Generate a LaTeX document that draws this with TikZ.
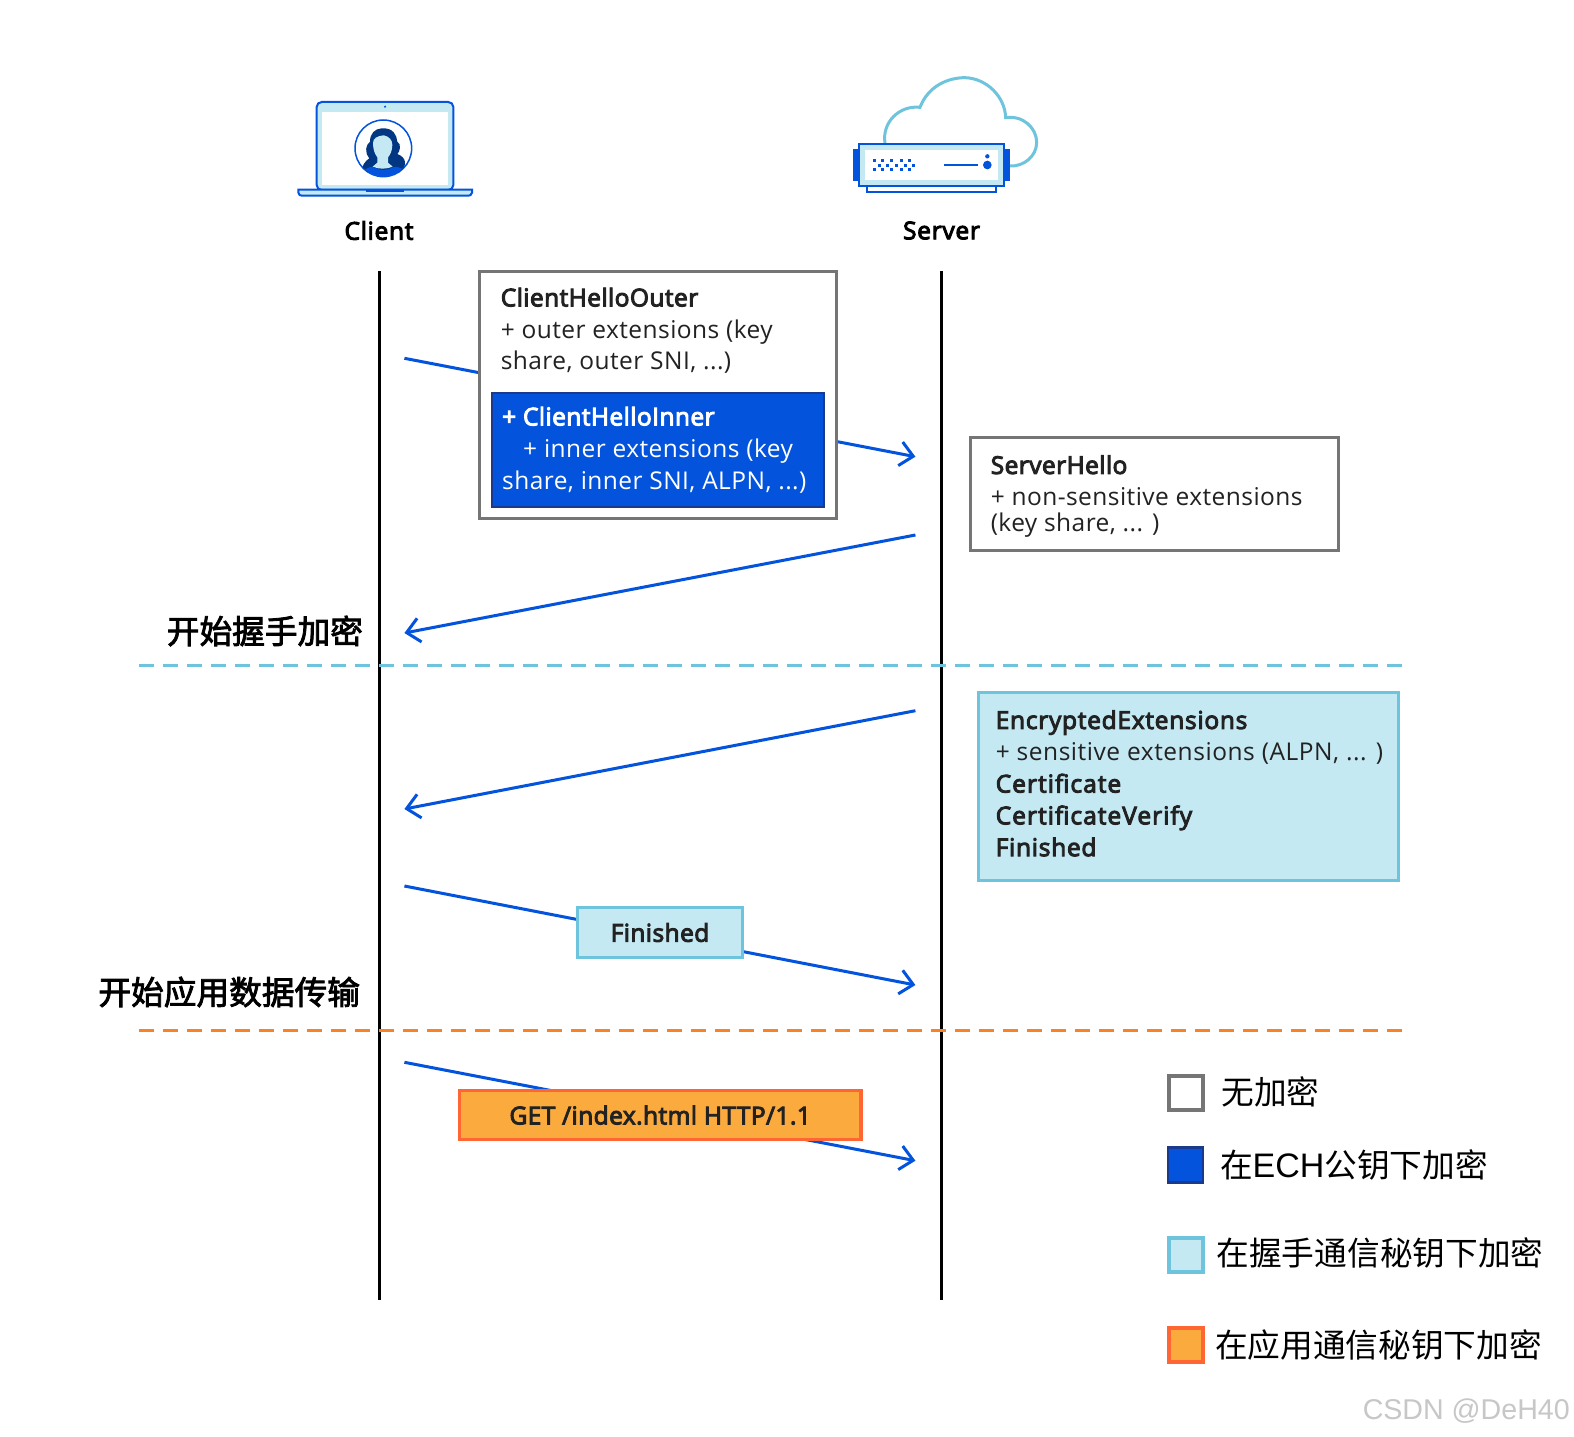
\documentclass[tikz,border=0pt]{standalone}
\usepackage{fontspec}
\usetikzlibrary{arrows.meta}
\setmainfont{Open Sans}[LetterSpace=1.8,BoldFont={Open Sans},BoldFeatures={FakeBold=4,LetterSpace=1.8}]
\newfontfamily\bfmid{Open Sans}[FakeBold=4,LetterSpace=3]
\newfontfamily\bfwide{Open Sans}[FakeBold=4,LetterSpace=4.2]
\newfontfamily\cjk{Noto Sans CJK SC}
\newfontfamily\cjkm{Noto Sans CJK SC}[FakeBold=2.5]
\newfontfamily\wm{Liberation Sans}
\newcommand{\spaced}[2]{{\addfontfeature{LetterSpace=#1}#2}}
\definecolor{cfblue}{HTML}{0353DC}
\definecolor{cfnavy}{HTML}{1B3A8C}
\definecolor{cfdark}{HTML}{003682}
\definecolor{cflight}{HTML}{C4E9F3}
\definecolor{cfcyan}{HTML}{6EC4DC}
\definecolor{cforange}{HTML}{FBAB3E}
\definecolor{cfred}{HTML}{FF6633}
\definecolor{cfdash}{HTML}{F98324}
\definecolor{cfgray}{HTML}{757575}
\definecolor{ink}{HTML}{222222}
\tikzset{
  life/.style={line width=3pt,black},
  msg/.style={line width=3pt,cfblue,-{Straight Barb[length=13pt,width=24pt,line width=3pt]}},
  plainbox/.style={draw=cfgray,fill=white,line width=3.3pt,inner sep=0,outer sep=0},
  echbox/.style={draw=cfnavy,fill=cfblue,line width=2.5pt,inner sep=0,outer sep=0},
  hsbox/.style={draw=cfcyan,fill=cflight,line width=3.3pt,inner sep=0,outer sep=0},
  appbox/.style={draw=cfred,fill=cforange,line width=3.3pt,inner sep=0,outer sep=0},
  txt/.style={inner sep=0,outer sep=0,align=left,text=ink,font=\fontsize{24.5}{31.8}\selectfont},
  head/.style={inner sep=0,outer sep=0,text=black,font=\bfmid\fontsize{24.5}{30}\selectfont},
  zh/.style={inner sep=0,outer sep=0,text=black,font=\cjk\fontsize{32.7}{36}\selectfont},
  zhb/.style={zh,font=\cjkm\fontsize{32.7}{36}\selectfont},
  phase/.style={line width=3.5pt,dash pattern=on 15pt off 9pt},
  icon/.style={line width=2pt,cfblue}
}
\begin{document}
\begin{tikzpicture}[x=1pt,y=-1pt]
\useasboundingbox (0,0) rectangle (1574,1437);
\fill[white] (0,0) rectangle (1574,1437);

% laptop icon
\begin{scope}[shift={(280,80)},x=0.33333pt,y=-0.33333pt]
  \draw[icon,fill=cflight,rounded corners=5pt] (110,330) -- (110,66) -- (520,66) -- (520,330) -- cycle;
  \fill[white] (125,95) rectangle (503,315);
  \fill[cfblue] (315,80) circle (3.5);
  \draw[icon,fill=cflight] (55,329) -- (576,329) -- (576,338) .. controls (576,345) and (570,347) .. (560,347) -- (72,347) .. controls (60,347) and (55,345) .. (55,338) -- cycle;
  \fill[cfblue] (258,329) rectangle (372,335);
  \draw[line width=1.5pt,cfblue,fill=white] (310,205) circle (85);
  \begin{scope}
    \clip (310,205) circle (84);
    \fill[cfdark] (305,145) .. controls (340,143) and (350,165) .. (352,185)
      .. controls (365,192) and (360,215) .. (352,222)
      .. controls (380,232) and (380,255) .. (365,275) -- (245,275)
      .. controls (245,258) and (255,243) .. (268,235)
      .. controls (252,215) and (258,195) .. (270,185)
      .. controls (270,160) and (285,146) .. (305,145) -- cycle;
    \fill[cflight] (279,190) .. controls (279,175) and (290,168) .. (312,166) .. controls (328,170) and (337,180) .. (337,195)
      .. controls (337,212) and (330,226) .. (324,232) -- (324,248) -- (338,260) .. controls (320,268) and (295,268) .. (278,260) -- (292,248) -- (292,232)
      .. controls (285,224) and (279,208) .. (279,190) -- cycle;
    \fill[cfblue] (240,280) .. controls (260,262) and (275,258) .. (282,262) .. controls (298,272) and (322,272) .. (338,262) .. controls (350,258) and (365,262) .. (385,280) -- (385,295) -- (240,295) -- cycle;
  \end{scope}
\end{scope}

% server icon
\begin{scope}[shift={(840,65)},x=0.33333pt,y=-0.33333pt]
  \draw[line width=3pt,cfcyan] (135,235) .. controls (125,170) and (180,120) .. (240,127)
    .. controls (265,62) and (325,38) .. (375,38)
    .. controls (440,40) and (495,95) .. (497,158)
    .. controls (550,150) and (590,190) .. (590,232)
    .. controls (590,275) and (550,305) .. (510,303);
  \fill[cfblue] (40,253) rectangle (57,347);
  \fill[cfblue] (493,253) rectangle (510,347);
  \draw[icon,fill=white] (80,362) rectangle (469,381);
  \draw[icon,fill=cflight] (57,238) rectangle (493,362);
  \fill[white] (75,255) rectangle (475,345);
  \foreach \px in {103,128,155,183,208}{
    \fill[cfblue] (\px-4.5,281) rectangle (\px+4.5,290);
    \fill[cfblue] (\px-4.5,310) rectangle (\px+4.5,319);
  }
  \foreach \px in {118,142,170,195,220}
    \fill[cfblue] (\px-4.5,296) rectangle (\px+4.5,305);
  \draw[line width=1.5pt,cfblue] (313,300) -- (415,300);
  \fill[cfblue] (442,300) circle (13);
  \fill[cfblue] (442,274) circle (6.5);
\end{scope}

\node[head] (clientlabel) at (379,230.5) {Client};
\node[head] (serverlabel) at (941.5,230.5) {Server};

% lifelines
\coordinate (ctop) at (379.6,271);
\coordinate (cbot) at (379.6,1300);
\coordinate (stop) at (941.5,271);
\coordinate (sbot) at (941.5,1300);
\draw[life] (ctop) -- (cbot);
\draw[life] (stop) -- (sbot);

% phase lines
\coordinate (p1a) at (139,665.3);
\coordinate (p1b) at (1402,665.3);
\coordinate (p2a) at (139,1030.3);
\coordinate (p2b) at (1402,1030.3);
\draw[phase,cfcyan] (p1a) -- (p1b);
\draw[phase,cfdash] (p2a) -- (p2b);
\node[zhb,anchor=east] (l1) at (363,631) {开始握手加密};
\node[zhb,anchor=east] (l2) at (360,992) {开始应用数据传输};

% messages
\coordinate (m1a) at (404.4,358.3);
\coordinate (m1b) at (915.4,456.7);
\coordinate (m2a) at (915.4,535);
\coordinate (m2b) at (404.4,633);
\coordinate (m3a) at (915.4,710.7);
\coordinate (m3b) at (404.4,809);
\coordinate (m4a) at (404.4,886);
\coordinate (m4b) at (915.4,985);
\coordinate (m5a) at (404.4,1062.3);
\coordinate (m5b) at (915.4,1160.7);
\draw[msg] (m1a) -- (m1b);
\draw[msg] (m2a) -- (m2b);
\draw[msg] (m3a) -- (m3b);
\draw[msg] (m4a) -- (m4b);
\draw[msg] (m5a) -- (m5b);

% boxes
\node[plainbox,minimum width=356.4pt,minimum height=247.5pt] (outer) at (658,395) {};
\node[echbox,minimum width=332pt,minimum height=114pt] (inner) at (658.2,449.8) {};
\node[txt,anchor=north west] (outertext) at ([xshift=21pt,yshift=-16.5pt]outer.north west) {\textbf{ClientHelloOuter}\\+ outer extensions (key\\share, outer SNI, ...)};
\node[txt,text=white,anchor=north west] (innertext) at ([xshift=10pt,yshift=-14pt]inner.north west) {\textbf{+ ClientHelloInner}\\\hspace*{21pt}+ inner extensions (key\\share, inner SNI, ALPN, ...)};

\node[plainbox,minimum width=367.7pt,minimum height=113pt] (sh) at (1154.6,493.8) {};
\node[txt,anchor=north west] (shtext) at ([xshift=20pt,yshift=-18pt]sh.north west) {\textbf{ServerHello}\\[0pt]+ non-sensitive extensions\\[-6pt](key share, ... )};

\node[hsbox,minimum width=419.7pt,minimum height=188pt] (ee) at (1188.6,786.3) {};
\node[txt,anchor=north west] (eetext) at ([xshift=17pt,yshift=-18pt]ee.north west) {{\bfmid EncryptedExtensions}\\\spaced{2.2}{+ sensitive extensions (ALPN, ... )}\\{\bfwide Certificate}\\{\bfwide CertificateVerify}\\{\bfmid Finished}};

\node[hsbox,minimum width=165.6pt,minimum height=50pt,text=ink,font=\fontsize{24.5}{30}\selectfont\bfseries] (fin) at (660,932.5) {Finished};
\node[appbox,minimum width=401.6pt,minimum height=49pt,text=ink,font=\fontsize{24.5}{30}\selectfont\bfseries] (get) at (660.2,1115.2) {GET /index.html HTTP/1.1};

% legend
\node[plainbox,minimum width=34pt,minimum height=34pt] (k1) at (1186,1093) {};
\node[echbox,draw=cfnavy,minimum width=35pt,minimum height=35pt] (k2) at (1185.5,1165) {};
\node[hsbox,minimum width=34pt,minimum height=34pt] (k3) at (1186,1255) {};
\node[appbox,minimum width=34pt,minimum height=34pt] (k4) at (1186,1345) {};
\node[zh,anchor=west] (t1) at (1221.5,1092) {无加密};
\node[zh,anchor=west] (t2) at (1220,1165) {在{\wm\fontsize{34}{36}\selectfont ECH}公钥下加密};
\node[zh,anchor=west] (t3) at (1216.5,1253) {在握手通信秘钥下加密};
\node[zh,anchor=west] (t4) at (1215,1345) {在应用通信秘钥下加密};
\node[inner sep=0,anchor=base east,text=black!22,font=\wm\fontsize{28.6}{34}\selectfont] (wmark) at (1570,1419) {CSDN @DeH40};
\end{tikzpicture}
\end{document}
